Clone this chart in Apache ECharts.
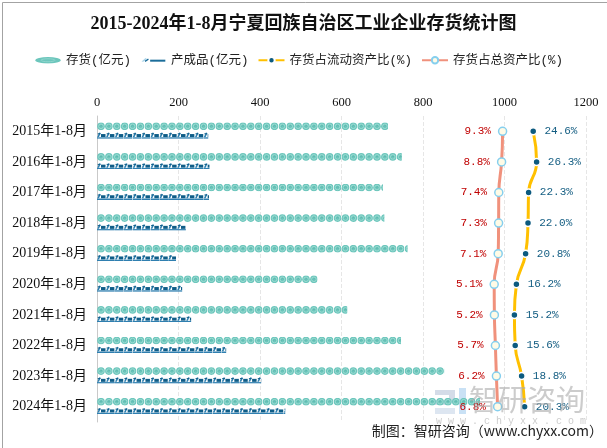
<!DOCTYPE html>
<html><head><meta charset="utf-8">
<script src="https://cdn.jsdelivr.net/npm/echarts@6/dist/echarts.min.js"></script>
<style>html,body{margin:0;padding:0;background:#fff}#c{width:607px;height:448px}</style>
</head><body><div id="c"></div>
<script>
const categories = ['2015年1-8月','2016年1-8月','2017年1-8月','2018年1-8月','2019年1-8月','2020年1-8月','2021年1-8月','2022年1-8月','2023年1-8月','2024年1-8月'];
const inventory = [714, 748, 702, 705, 762, 541, 614, 746, 852, 940];
const finished = [273, 276, 275, 218, 194, 209, 231, 317, 403, 462];
const ratioCurrent = [24.6, 26.3, 22.3, 22.0, 20.8, 16.2, 15.2, 15.6, 18.8, 20.3];
const ratioTotal = [9.3, 8.8, 7.4, 7.3, 7.1, 5.1, 5.2, 5.7, 6.2, 6.8];
const valueTicks = [0, 200, 400, 600, 800, 1000, 1200];
const names = ['存货(亿元)', '产成品(亿元)', '存货占流动资产比(%)', '存货占总资产比(%)'];

function svgUri(s){ return 'image://data:image/svg+xml;charset=utf-8,' + encodeURIComponent(s); }
const invSym = svgUri("<svg xmlns='http://www.w3.org/2000/svg' width='16' height='16' viewBox='0 0 16 16'><circle cx='8' cy='8' r='7.6' fill='#6cc6bc'/><circle cx='8' cy='8' r='4.6' fill='none' stroke='#a6dfd7' stroke-width='1.6'/><path d='M5.5 9 Q8 4 10.5 8' fill='none' stroke='#58b3a9' stroke-width='1.3'/></svg>");
const finSym = svgUri("<svg xmlns='http://www.w3.org/2000/svg' width='18' height='14' viewBox='0 0 18 14'><path d='M0.5 10.5 L4.5 1.5 L7.5 2.5 L4 10.5 Z' fill='#2c7fb0'/><path d='M1.5 4 L7 4' stroke='#0f5d88' stroke-width='2'/><rect x='8' y='4.5' width='9' height='6' fill='#0f5d88'/><rect x='0' y='11' width='18' height='3' fill='#2f7fb0'/></svg>");
const invLegend = svgUri("<svg xmlns='http://www.w3.org/2000/svg' width='52' height='14' viewBox='0 0 52 14'><ellipse cx='26' cy='7' rx='25.5' ry='6.5' fill='#6cc6bc'/><ellipse cx='26' cy='7' rx='14' ry='3' fill='none' stroke='#a6dfd7' stroke-width='1.2'/></svg>");
const finLegend = svgUri("<svg xmlns='http://www.w3.org/2000/svg' width='44' height='14' viewBox='0 0 44 14'><path d='M2 9 L9 3 L11 4.5 L5 9.5 Z' fill='#a8d4ea'/><path d='M8 9 L14 5' stroke='#1b6d9a' stroke-width='2.2'/><rect x='17' y='6' width='27' height='3.5' fill='#1b6d9a'/></svg>");

const chart = echarts.init(document.getElementById('c'));
const sans = 'Noto Sans CJK SC';
chart.setOption({
  backgroundColor: '#fff',
  animation: false,
  title: {
    text: '2015-2024年1-8月宁夏回族自治区工业企业存货统计图',
    left: 'center', top: 10,
    textStyle: { fontSize: 18, fontWeight: 'bold', color: '#111', fontFamily: 'Liberation Serif, ' + sans }
  },
  legend: {
    top: 49, left: 30, itemWidth: 26, itemHeight: 8, itemGap: 9,
    textStyle: { fontSize: 12.5, color: '#222', fontFamily: 'Liberation Mono, ' + sans },
    data: [
      { name: names[0], icon: invLegend },
      { name: names[1], icon: finLegend },
      { name: names[2] },
      { name: names[3] }
    ]
  },
  grid: { left: 97, right: 21, top: 116, bottom: 26, containLabel: false },
  xAxis: [
    {
      type: 'value', position: 'top', min: valueTicks[0], max: valueTicks[valueTicks.length - 1], interval: 200,
      axisLine: { show: false }, axisTick: { show: false },
      axisLabel: { fontSize: 12.5, color: '#111', margin: 7, fontFamily: 'Liberation Serif', formatter: v => String(v) },
      splitLine: { show: true, lineStyle: { color: '#e6e6e6', type: 'dashed' } }
    },
    { type: 'value', show: false, min: -193.5, max: 51 }
  ],
  yAxis: {
    type: 'category', inverse: true, data: categories,
    axisLine: { show: true, lineStyle: { color: '#c9c9c9' } },
    axisTick: { show: false },
    axisLabel: { fontSize: 14, color: '#111', margin: 10, fontFamily: 'Liberation Serif, ' + sans }
  },
  series: [
    {
      name: names[0], type: 'pictorialBar', xAxisIndex: 0, data: inventory,
      symbol: invSym, symbolSize: [8, 8], symbolRepeat: true, symbolClip: true, symbolMargin: 0,
      symbolOffset: [0, -5], barWidth: 8, barGap: '-100%', z: 2
    },
    {
      name: names[1], type: 'pictorialBar', xAxisIndex: 0, data: finished,
      symbol: finSym, symbolSize: [9, 7], symbolRepeat: true, symbolClip: true, symbolMargin: 0,
      symbolOffset: [0, 4], barWidth: 8, barGap: '-100%', z: 2
    },
    {
      name: names[2], type: 'line', xAxisIndex: 1, data: ratioCurrent, smooth: 0.5,
      symbol: 'circle', symbolSize: 7,
      lineStyle: { color: '#ffc000', width: 3 },
      itemStyle: { color: '#0c5a7f', borderColor: '#fff', borderWidth: 1.5 },
      label: { show: true, position: 'right', distance: 7, color: '#135d82', fontSize: 11, fontFamily: 'Liberation Mono',
        formatter: p => p.value.toFixed(1) + '%' },
      z: 5
    },
    {
      name: names[3], type: 'line', xAxisIndex: 1, data: ratioTotal, smooth: 0.5,
      symbol: 'circle', symbolSize: 8,
      lineStyle: { color: '#f0917c', width: 3 },
      itemStyle: { color: '#fffbe6', borderColor: '#86cfee', borderWidth: 1.5 },
      label: { show: true, position: 'left', distance: 7, color: '#c00000', fontSize: 11, fontFamily: 'Liberation Mono',
        formatter: p => p.value.toFixed(1) + '%' },
      z: 5
    }
  ],
  graphic: [
    { type: 'rect', left: 0, top: 0, shape: { x: 0.5, y: 0.5, width: 606, height: 447 }, style: { fill: 'none', stroke: '#a3a3a3', lineWidth: 1 }, z: 100, silent: true },
    { type: 'group', left: 435, top: 388, z: 50, silent: true, children: [
      { type: 'rect', shape: { x: 0, y: 2, width: 20, height: 5 }, style: { fill: 'rgba(160,178,205,0.45)' } },
      { type: 'rect', shape: { x: 14, y: 7, width: 6, height: 8 }, style: { fill: 'rgba(160,178,205,0.45)' } },
      { type: 'rect', shape: { x: 0, y: 12, width: 16, height: 5 }, style: { fill: 'rgba(160,178,205,0.45)' } },
      { type: 'rect', shape: { x: 0, y: 20, width: 20, height: 6 }, style: { fill: 'rgba(180,200,225,0.45)' } },
      { type: 'rect', shape: { x: 24, y: 0, width: 7, height: 26 }, style: { fill: 'rgba(120,180,230,0.4)' } }
    ]},
    { type: 'text', left: 469, top: 385, z: 50, silent: true, style: { text: '智研咨询', fontSize: 29, fill: 'rgba(170,170,170,0.6)', fontFamily: sans } },
    { type: 'text', left: 436, top: 416, z: 50, silent: true, style: { text: 'w w w . c h y x x . c o m', fontSize: 10, fill: 'rgba(170,170,170,0.6)', fontFamily: 'Liberation Mono' } },
    { type: 'text', right: 4, top: 424, z: 60, silent: true, style: { text: '制图：智研咨询（www.chyxx.com）', fontSize: 14, fill: '#222', fontFamily: sans } }
  ]
});
</script></body></html>
